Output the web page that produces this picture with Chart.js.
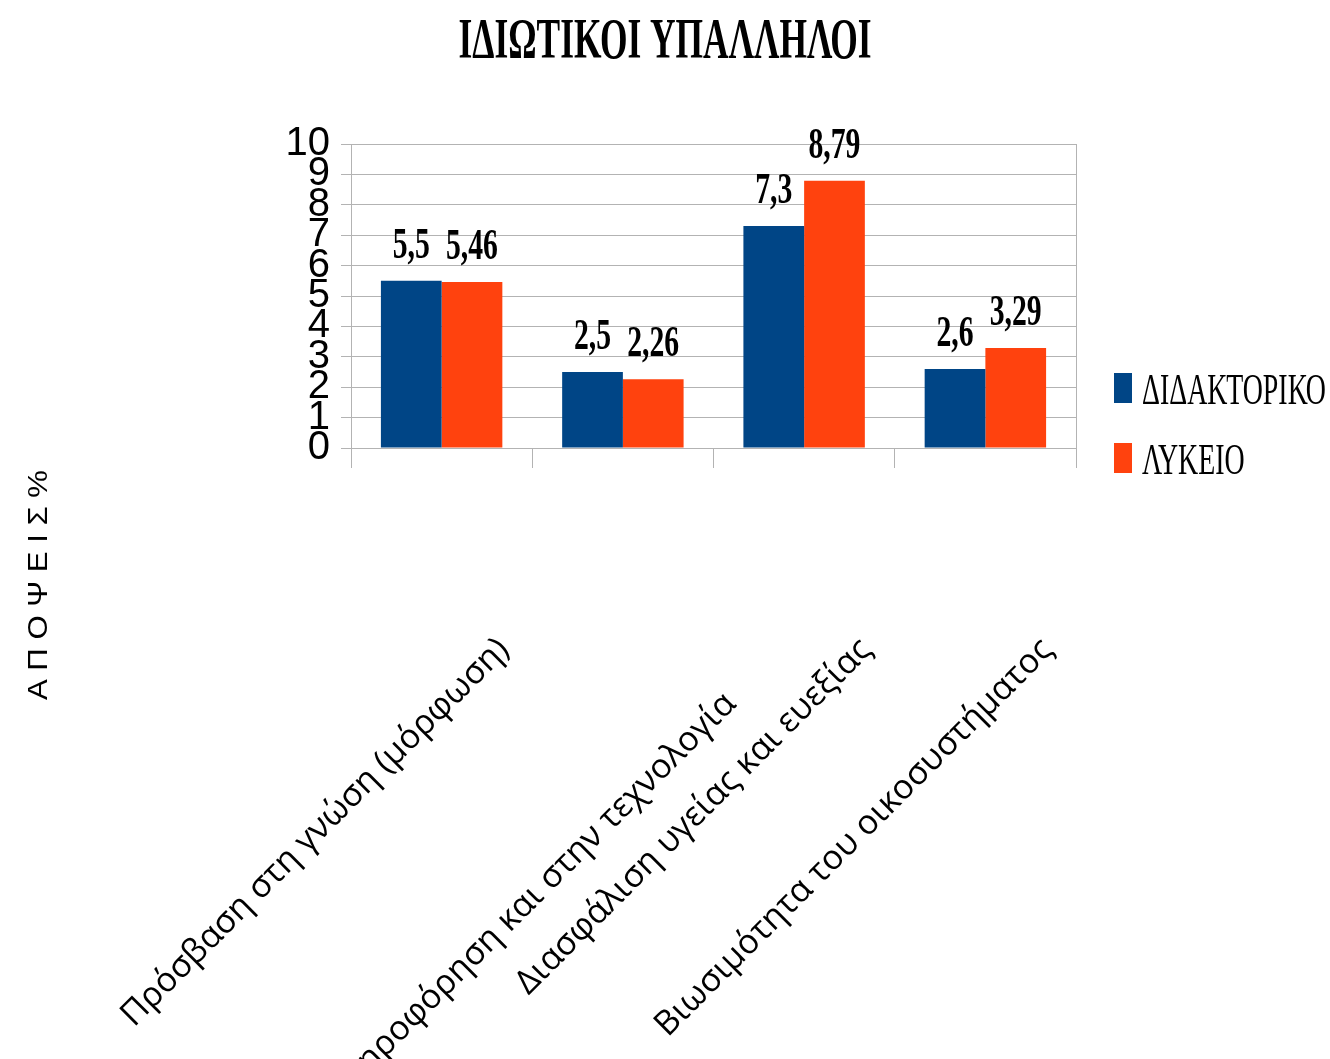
<!DOCTYPE html>
<html lang="el">
<head>
    <meta charset="UTF-8">
    <title>ΙΔΙΩΤΙΚΟΙ ΥΠΑΛΛΗΛΟΙ</title>
    <script src="https://cdn.jsdelivr.net/npm/chart.js"></script>
    <style>
        html, body { margin: 0; padding: 0; background: #fff; }
        #wrap { width: 1330px; height: 1059px; }
    </style>
</head>
<body>
    <div id="wrap"><canvas id="chart"></canvas></div>

    <script>
        const titleText = 'ΙΔΙΩΤΙΚΟΙ ΥΠΑΛΛΗΛΟΙ';
        const yTitle = 'Α Π Ο Ψ Ε Ι Σ %';
        const categories = [
            'Πρόσβαση στη γνώση (μόρφωση)',
            'Πρόσβαση στην πληροφόρηση και στην τεχνολογία',
            'Διασφάλιση υγείας και ευεξίας',
            'Βιωσιμότητα του οικοσυστήματος'
        ];
        const seriesNames = ['ΔΙΔΑΚΤΟΡΙΚΟ', 'ΛΥΚΕΙΟ'];
        const doctorate = [5.5, 2.5, 7.3, 2.6];
        const lyceum = [5.46, 2.26, 8.79, 3.29];
        const colors = ['#004586', '#ff420e'];
        const gridColor = '#b3b3b3';

        // the second label sits on a staggered second row in the original
        const xLabels = categories.map((c, i) => i === 1 ? ['', c] : c);

        // draw text squeezed horizontally (the original uses a condensed face)
        function drawSqueezed(ctx, text, x, y, font, sx, align) {
            ctx.save();
            ctx.font = font;
            ctx.fillStyle = '#000';
            ctx.textAlign = align;
            ctx.textBaseline = 'alphabetic';
            ctx.translate(x, y);
            ctx.scale(sx, 1);
            ctx.fillText(text, 0, 0);
            ctx.restore();
        }

        function fitScale(ctx, text, font, width) {
            ctx.save();
            ctx.font = font;
            const w = ctx.measureText(text).width;
            ctx.restore();
            return width / w;
        }

        const decorations = {
            id: 'decorations',
            afterDraw(chart) {
                const ctx = chart.ctx;

                // title
                const tFont = 'bold 56px "Liberation Serif"';
                drawSqueezed(ctx, titleText, 665, 58, tFont, fitScale(ctx, titleText, tFont, 413), 'center');

                // y axis title
                ctx.save();
                ctx.translate(37, 585);
                ctx.rotate(-Math.PI / 2);
                const yFont = '27px "Liberation Sans"';
                drawSqueezed(ctx, yTitle, 0, 10, yFont, fitScale(ctx, yTitle, yFont, 230), 'center');
                ctx.restore();

                // value labels above bars
                const vFont = 'bold 45px "Liberation Serif"';
                chart.data.datasets.forEach((ds, i) => {
                    chart.getDatasetMeta(i).data.forEach((bar, j) => {
                        const txt = String(ds.data[j]).replace('.', ',');
                        drawSqueezed(ctx, txt, bar.x, bar.y - 23, vFont, 0.66, 'center');
                    });
                });

                // legend
                const lFont = '45px "Liberation Serif"';
                const lsx = fitScale(ctx, seriesNames[0], lFont, 184);
                seriesNames.forEach((name, i) => {
                    const top = 373 + i * 70;
                    ctx.fillStyle = colors[i];
                    ctx.fillRect(1114, top, 18, 30);
                    drawSqueezed(ctx, name, 1142, top + 31, lFont, lsx, 'left');
                });
            }
        };

        const ctx = document.getElementById('chart').getContext('2d');
        const chart = new Chart(ctx, {
            type: 'bar',
            data: {
                labels: xLabels,
                datasets: [
                    { label: seriesNames[0], data: doctorate, backgroundColor: colors[0] },
                    { label: seriesNames[1], data: lyceum, backgroundColor: colors[1] }
                ]
            },
            options: {
                responsive: true,
                maintainAspectRatio: false,
                animation: false,
                datasets: { bar: { barPercentage: 1.0, categoryPercentage: 0.67 } },
                layout: { padding: { top: 144, right: 254, bottom: 0, left: 0 } },
                plugins: {
                    title: { display: false },
                    legend: { display: false },
                    tooltip: { enabled: false }
                },
                scales: {
                    x: {
                        grid: {
                            offset: true,
                            color: (c) => (c.type === 'tick' && c.index > 0) ? 'rgba(0,0,0,0)' : gridColor,
                            tickColor: gridColor,
                            tickLength: 20
                        },
                        border: { display: true, color: gridColor },
                        ticks: {
                            autoSkip: false,
                            minRotation: 45,
                            maxRotation: 45,
                            padding: 162,
                            labelOffset: 62,
                            color: '#000',
                            font: (c) => ({
                                family: '"Open Sans"',
                                size: 34,
                                lineHeight: c.index === 1 ? 1.9 : 1.2
                            })
                        },
                        afterFit: (s) => { s.height = 611; s.paddingLeft = 0; s.paddingRight = 0; }
                    },
                    y: {
                        min: 0,
                        max: 10,
                        ticks: {
                            stepSize: 1,
                            autoSkip: false,
                            padding: 11,
                            color: '#000',
                            font: { family: '"Liberation Sans"', size: 40 }
                        },
                        grid: { color: gridColor, tickColor: gridColor, tickLength: 10 },
                        border: { display: true, color: gridColor },
                        afterFit: (s) => { s.width = 351; s.paddingTop = 0; s.paddingBottom = 0; }
                    }
                }
            },
            plugins: [decorations]
        });
    </script>
</body>
</html>
